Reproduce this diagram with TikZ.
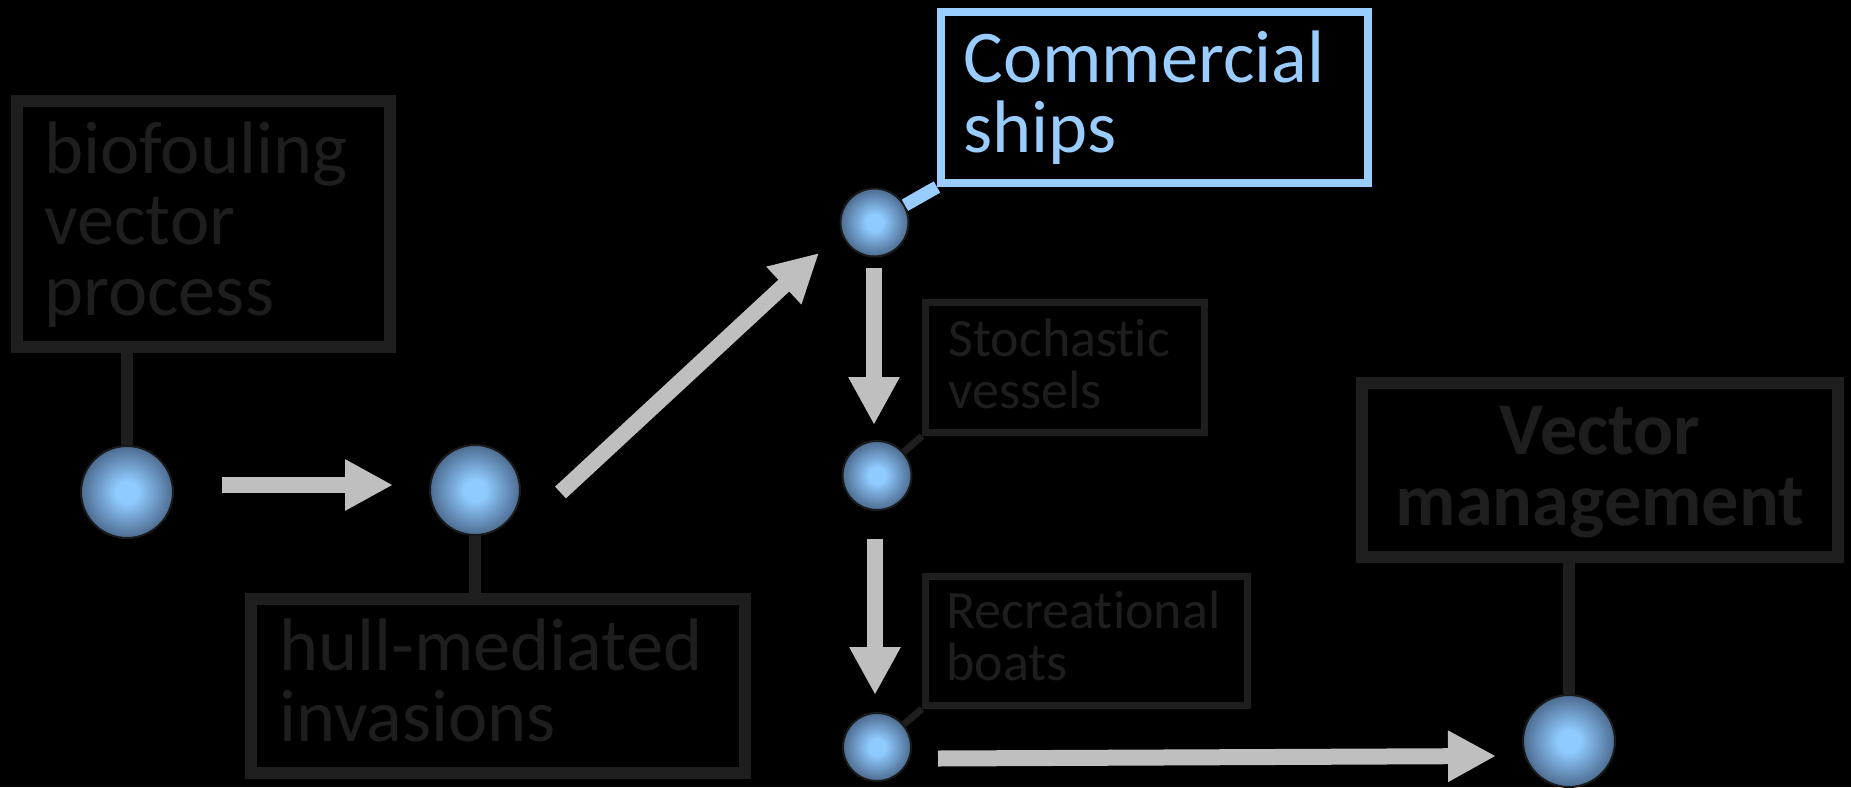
\documentclass[tikz,border=0pt]{standalone}
\usepackage{fontspec}
\setmainfont{Carlito}[Ligatures=NoCommon]
\usetikzlibrary{arrows.meta}

\definecolor{boxgray}{HTML}{1E1E1E}
\definecolor{shipblue}{HTML}{99CCFF}
\definecolor{flowgray}{HTML}{BFBFBF}
\definecolor{sphin}{HTML}{90CBFF}
\definecolor{sphout}{HTML}{4D6C91}
\definecolor{sphrim}{HTML}{1A1A1A}

% soft blue sphere: light core fading to steel blue at the rim
\pgfdeclareradialshading{bluesphere}{\pgfpoint{0bp}{0bp}}{%
  color(0bp)=(sphin); color(6bp)=(sphin); color(25bp)=(sphout); color(50bp)=(sphout)}

\begin{document}
\begin{tikzpicture}[x=0.5pt,y=-0.5pt,
  framebox/.style={rectangle, draw=boxgray, line width=6pt, inner sep=0pt},
  thinbox/.style={rectangle, draw=boxgray, line width=3.5pt, inner sep=0pt},
  shipbox/.style={rectangle, draw=shipblue, line width=4pt, inner sep=0pt},
  sphere/.style={circle, draw=sphrim, line width=1pt, shade, shading=bluesphere, inner sep=0pt},
  tagline/.style={draw=boxgray, line width=6pt},
  thintag/.style={draw=boxgray, line width=3.5pt},
  shiptag/.style={draw=shipblue, line width=6.5pt},
  flow/.style={draw=flowgray, line width=8pt, -{Triangle[length=24pt,width=24pt]}},
  bigtext/.style={inner sep=0pt, font=\fontsize{37.2}{35.5}\selectfont},
  smalltext/.style={inner sep=0pt, font=\fontsize{27}{26}\selectfont},
]
% canvas
\fill[black] (0,0) rectangle (1851,787);
\useasboundingbox (0,0) rectangle (1851,787);

% label boxes
\node[framebox, minimum width=186.5pt, minimum height=123pt] (bio) at (203.5,224) {};
\node[framebox, minimum width=247pt, minimum height=87pt] (hull) at (498,686) {};
\node[shipbox, minimum width=213.5pt, minimum height=85.5pt] (ships) at (1154.5,97.5) {};
\node[thinbox, minimum width=139.5pt, minimum height=65pt] (stoch) at (1065,367.5) {};
\node[thinbox, minimum width=161pt, minimum height=64.5pt] (recr) at (1086.5,641) {};
\node[framebox, minimum width=238pt, minimum height=87pt] (mgmt) at (1600,470) {};

% box texts
\node[bigtext, text=boxgray, anchor=base west] (biotxt) at (44,173)
  {\parbox[t]{300pt}{biofouling\\vector\\process}};
\node[bigtext, text=boxgray, anchor=base west] (hulltxt) at (279,670)
  {\parbox[t]{300pt}{hull-mediated\\invasions}};
\node[bigtext, text=shipblue, anchor=base west] (shiptxt) at (963,82)
  {\parbox[t]{300pt}{Commercial\\ships}};
\node[smalltext, text=boxgray, anchor=base west] (stochtxt) at (948,356)
  {\parbox[t]{200pt}{Stochastic\\vessels}};
\node[smalltext, text=boxgray, anchor=base west] (recrtxt) at (946,628)
  {\parbox[t]{200pt}{Recreational\\boats}};
\node[bigtext, text=boxgray, anchor=base] (mgmttxt) at (1600,454)
  {\parbox[t]{238pt}{\centering\bfseries Vector\\management}};

% spheres
\node[sphere, minimum size=46pt] (c1) at (127,492) {};
\node[sphere, minimum size=45pt] (c2) at (475,490) {};
\node[sphere, minimum size=34pt] (c3) at (874.5,222.5) {};
\node[sphere, minimum size=34.5pt] (c4) at (877,475.5) {};
\node[sphere, minimum size=34pt] (c5) at (877,747) {};
\node[sphere, minimum size=46pt] (c6) at (1569,741) {};

% tags linking spheres to their boxes
\draw[tagline] (c1.north) -- (c1.north |- bio.south);
\draw[tagline] (c2.south) -- (c2.south |- hull.north);
\draw[tagline] (c6.north) -- (c6.north |- mgmt.south);
\draw[shiptag] (c3) -- (ships.south west);
\draw[thintag] (c4) -- (stoch.south west);
\draw[thintag] (c5) -- (recr.south west);

% flow arrows
\coordinate (a1s) at (222,485);   \coordinate (a1e) at (393,485);
\coordinate (a2s) at (560.5,492.5); \coordinate (a2e) at (819,253);
\coordinate (a3s) at (874,268);   \coordinate (a3e) at (874,425);
\coordinate (a4s) at (875,539);   \coordinate (a4e) at (875,695);
\coordinate (a5s) at (938,758.5); \coordinate (a5e) at (1496,756);
\draw[flow] (a1s) -- (a1e);
\draw[flow] (a2s) -- (a2e);
\draw[flow] (a3s) -- (a3e);
\draw[flow] (a4s) -- (a4e);
\draw[flow] (a5s) -- (a5e);
\end{tikzpicture}
\end{document}
